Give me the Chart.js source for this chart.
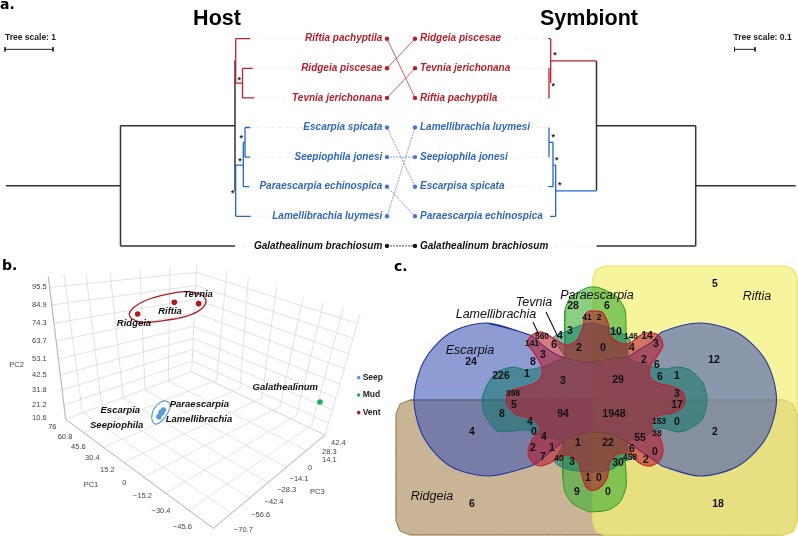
<!DOCTYPE html>
<html>
<head>
<meta charset="utf-8">
<title>Host and symbiont</title>
<script src="https://cdn.jsdelivr.net/npm/chart.js@4"></script>
<style>
  html, body { margin: 0; padding: 0; background: #fff; }
  #page { position: relative; width: 798px; height: 536px; overflow: hidden; }
  canvas { position: absolute; display: block; }
  #treeChart { left: 0; top: 0; }
  #pcaChart { left: 0; top: 255px; }
  #vennChart { left: 390px; top: 260px; }
</style>
</head>
<body>
<div id="page">
  <canvas id="treeChart" width="798" height="256"></canvas>
  <canvas id="pcaChart" width="390" height="281"></canvas>
  <canvas id="vennChart" width="408" height="276"></canvas>
</div>
<script>
// panel a: tips sit on integer rows 0..7, x is branch position
const hostTips = ["Riftia pachyptila", "Ridgeia piscesae", "Tevnia jerichonana", "Escarpia spicata",
  "Seepiophila jonesi", "Paraescarpia echinospica", "Lamellibrachia luymesi", "Galathealinum brachiosum"];
const symbiontTips = ["Ridgeia piscesae", "Tevnia jerichonana", "Riftia pachyptila", "Lamellibrachia luymesi",
  "Seepiophila jonesi", "Escarpisa spicata", "Paraescarpia echinospica", "Galathealinum brachiosum"];
const tipRows = [0, 1, 2, 3, 4, 5, 6, 7];
const tipColors = ["#b5202b", "#b5202b", "#b5202b", "#2f68b8", "#2f68b8", "#2f68b8", "#2f68b8", "#111"];
const dotColors = ["#b5202b", "#b5202b", "#b5202b", "#4f78c4", "#4f78c4", "#4f78c4", "#4f78c4", "#111"];
// host row -> symbiont row
const linkTargets = [2, 0, 1, 5, 4, 6, 3, 7];
const hostTipEnd = [250, 252.7, 254, 250, 250, 249.3, 250.7, 235];
const hostLabelStart = [306, 302, 293, 304, 295, 261, 274, 255];
const symbiontLabelEnd = [500, 509, 496, 529, 507, 503, 542, 547];
const symbiontTipEnd = [548, 548, 548, 549, 549, 548, 550, 596];

const hostBlack = [[6,4.97,120.5,4.97],[120.5,2.94,120.5,7],[120.5,2.94,235,2.94],[120.5,7,235,7],[235,0.74,235,5.14]];
const hostRed = [[235.7,0,235.7,1.5],[235.7,0,250,0],[235.7,1.5,242.5,1.5],[242.5,1,242.5,2],[242.5,1,252.7,1],[242.5,2,254,2]];
const hostBlue = [[235.7,4.27,235.7,6],[235.7,6,250.7,6],[235.7,4.27,243.3,4.27],[243.3,3.5,243.3,5],[243.3,5,249.3,5],
  [243.3,3.5,245,3.5],[245,3,245,4],[245,3,250,3],[245,4,250,4]];
const symbiontBlack = [[695.7,4.97,795.7,4.97],[695.7,2.94,695.7,7],[596.5,2.94,695.7,2.94],[596.5,7,695.7,7],[596.5,0.75,596.5,5.14]];
const symbiontRed = [[550.7,0.75,596.5,0.75],[550.7,0,550.7,1.5],[548.3,0,550.7,0],[549,1,549,2],[548.3,1,549,1],[548.3,2,549,2]];
const symbiontBlue = [[555.7,5.14,596.5,5.14],[555.7,4.27,555.7,6],[550,6,555.7,6],[553,4.27,555.7,4.27],[553,3.5,553,5],
  [548.3,5,553,5],[549.3,3.5,553,3.5],[549,3,549,4]];
const starX = [239.3, 241.3, 240, 232.7, 555, 553.3, 553.3, 556.7, 559.7];
const starRow = [1.42, 3.38, 4.15, 5.22, 0.58, 1.62, 3.35, 4.1, 4.95];
const treeScaleHost = [[5,0.36,53,0.36],[5,0.29,5,0.43],[53,0.29,53,0.43]];
const treeScaleSymbiont = [[734.5,0.36,755,0.36],[734.5,0.29,734.5,0.43],[755,0.29,755,0.43]];

// panel b: projected onto the picture plane of the 3D plot
const pc2Ticks = ["10.6","21.2","31.8","42.5","53.1","63.7","74.3","84.9","95.5"];
const pc2TickX = [140,140,140,140,140,140,140,140,140];
const pc2TickY = [490,450,405,360,312,258,205,150,97];
const pc1Ticks = ["76","60.8","45.6","30.4","15.2","0","\u221215.2","\u221230.4","\u221245.6"];
const pc1TickX = [157,195,235,277,322,373,427,483,547];
const pc1TickY = [517,547,577,610,645,683,722,768,815];
const pc3Ticks = ["42.4","28.3","14.1","0","\u221214.1","\u221228.3","\u221242.4","\u221256.6","\u221270.7"];
const pc3TickX = [1015,988,988,930,897,860,822,782,730];
const pc3TickY = [565,590,615,640,672,705,741,780,825];
const pcAxisNames = ["PC2", "PC1", "PC3"];
const pcAxisX = [50, 273, 952];
const pcAxisY = [330, 690, 712];
const wallLines = [
  [197,493,145,65],[247,472,192,60],[305,453,258,55],[370,430,330,50],[435,405,420,42],[505,378,510,35],[575,350,590,28],
  [650,375,680,50],[720,400,745,68],[785,430,830,95],[840,455,910,125],[890,480,970,145],[935,510,1030,160],[975,540,1080,178],
  [197,493,575,350],[575,350,975,540],
  [192,450,576.5,318],[576.5,318,985,504],[186,405,578,284],[578,284,997,465],[181,360,580,250],[580,250,1008,428],
  [175,312,581,214],[581,214,1019,387],[168,258,583,173],[583,173,1033,341],[162,205,585,133],[585,133,1046,296],
  [155,150,587,92],[587,92,1059,250],[149,97,589,52],[589,52,1072,205]];
const floorLines = [
  [640,820,197,493],[695,775,247,472],[750,730,305,453],[805,683,370,430],[860,637,435,405],[920,587,505,378],[975,540,575,350],
  [640,820,975,540],[565,768,935,510],[495,716,890,480],[430,667,840,455],[370,622,785,430],[310,577,720,400],[250,532,650,375]];
const ventX = [413, 523, 596];
const ventY = [177, 142, 146];
const seepX = [477, 483, 485, 490];
const seepY = [485, 472, 474, 465];
const mudX = [960];
const mudY = [441];
const ventRingX = [388,400,440,500,560,605,618,600,555,490,430,397];
const ventRingY = [175,158,135,118,110,120,140,165,185,197,202,192];
const seepRingX = [455,460,480,498,510,503,485,465];
const seepRingY = [488,465,443,438,450,475,498,507];
const pcaNames = ["Tevnia","Riftia","Ridgeia","Escarpia","Seepiophila","Paraescarpia","Lamellibrachia","Galathealinum"];
const pcaNameX = [594,510,402,361,350,598,597,856];
const pcaNameY = [117,170,205,467,510,447,492,398];
const legendNames = ["Seep","Mud","Vent"];
const legendColors = ["#5b9bd5","#1fae55","#b01820"];
const legendRows = [368,420,473];

// panel c: the six set outlines, in picture units
const riftiaX = [605,785,793.5,797,797,793.5,785,605,596.5,593,593,596.5];
const riftiaY = [266,266,269.5,278,523,531.5,535,535,531.5,523,278,269.5];
const ridgeiaX = [410,783,793,797,797,793,783,410,400,396,396,400];
const ridgeiaY = [400,400,404,414,521,531,535,535,531,521,414,404];
const escarpiaX = [487,530,540,552,565,590,615,628,640,652,662,700,738,766,776.5,766,738,700,662,658,627,610,590,577,563,550,537,525,487,450,424,414,424,450];
const escarpiaY = [323,335,343,352,358,362,358,357,349,342,332,323,333,361,399.5,438,466,476,466,463,442,434,432,435,442,452,463,468,476,466,438,400,361,333];
const paraTopX = [565,565,570,582,590,600,617,625,626,626,628,615,590,565,565];
const paraTopY = [345,310,298,290,287,288,297,310,327,345,357,358,362,358,352];
const paraBottomX = [563,563,565,572,587,590,608,620,626,626,625,627,610,590,577,565];
const paraBottomY = [455,478,492,503,511,512,510,502,487,472,457,442,434,432,435,441];
const lamelliX = [482,487,497,513,527,545,556,565,553,565,590,615,630,627,645,665,677,690,703,707,702,687,677,660,645,627,633,623,610,590,567,555,563,545,527,513,497,485];
const lamelliY = [400,385,372,367,370,366,361,357,338,332,323,330,340,357,365,369,367,370,383,400,420,430,432,428,436,442,457,462,470,472,469,462,442,437,430,431,431,415];
const tevniaX = [590,602,608,610,620,630,638,645,658,663,658,650,650,657,670,680,685,683,673,660,652,652,660,663,658,648,638,630,618,610,607,598,590,585,581,578,568,558,550,540,532,528,532,540,537,530,517,507,506,508,523,537,542,540,532,527,532,542,553,567,577,583,585];
const tevniaY = [311,312,323,335,343,343,337,333,335,345,355,367,377,383,386,390,398,407,413,415,422,428,438,452,462,466,462,454,454,462,478,489,490,485,472,462,455,458,463,466,462,452,440,430,423,418,415,405,400,392,387,382,373,363,350,343,335,332,338,345,340,327,315];
const vennCounts = ["24","560","141","6","4","3","3","2","8","226","1","3","398","28","41","2","6","5","10","146","14","3","4","0","2","6","12","1","6","29","3",
  "5","8","94","4","0","4","4","1","2","1","7","40","3","1","9","6","0","1948","17","153","0","2","28","55","22","6","0","2","458","30","0","18"];
const vennCountX = [471,542,532,554,560,570,543,579,533,501,527,563,513,573,587,599,607,715,616,631,647,656,632,603,644,657,714,677,660,618,677,
  514,502,563,530,534,544,472,578,533,552,543,559,572,588,577,472,599,614,677,659,677,715,657,640,608,632,655,646,630,618,608,718];
const vennCountY = [362,337,344,345,336,331,355,348,362,376,374,381,394,306,318,318,306,284,332,337,336,344,348,348,360,365,360,376,377,380,394,
  405,414,414,422,432,437,432,443,448,448,457,459,462,478,492,504,478,414,405,422,422,432,434,438,443,449,452,460,458,463,492,504];
// these counts are set in the smaller type
const vennSmall = [1, 2, 12, 14, 15, 19, 42, 50, 53, 59];
const vennNames = ["Escarpia","Lamellibrachia","Tevnia","Paraescarpia","Riftia","Ridgeia"];
const vennNameX = [470,496,534,597,757,432];
const vennNameY = [351,315,303,296,297,497];
const pointerLines = [[533,322,539,335],[546,312,558,337]];

function zipXY(xs, ys) {
  return xs.map(function (x, i) { return { x: x, y: ys[i] }; });
}

// [x1,y1,x2,y2] rows become one broken line
function segmentPoints(list) {
  const out = [];
  list.forEach(function (s) {
    out.push({ x: s[0], y: s[1] }, { x: s[2], y: s[3] }, { x: null, y: null });
  });
  return out;
}

function loopPoints(xs, ys) {
  const pts = zipXY(xs, ys);
  pts.push(pts[0]);
  pts.push(pts[1]);
  return pts;
}

function lines(list, color, width, dash) {
  return { data: segmentPoints(list), showLine: true, borderColor: color, borderWidth: width,
    borderDash: dash || [], pointRadius: 0, tension: 0, spanGaps: false, clip: false };
}

function dots(xs, ys, color, r) {
  return { data: zipXY(xs, ys), backgroundColor: color, borderColor: color, pointRadius: r, pointBorderWidth: 0, showLine: false };
}

function texts(strs, xs, ys, font, color, align) {
  return { data: zipXY(xs, ys), pointRadius: 0, showLine: false, markTexts: strs,
    markFont: font, markColor: color, markAlign: align || "center" };
}

function ring(xs, ys, color, width) {
  return { data: loopPoints(xs, ys), showLine: true, borderColor: color, borderWidth: width, pointRadius: 0, tension: 0.35, clip: false };
}

function blob(xs, ys, fill, edge, width, tension) {
  const d = ring(xs, ys, edge, width);
  d.tension = tension;
  d.blobFill = fill;
  return d;
}

const markPlugin = {
  id: "marks",
  beforeDatasetDraw: function (chart, args) {
    const ds = chart.data.datasets[args.index];
    if (!ds.blobFill) return;
    const ctx = chart.ctx;
    ctx.save();
    ctx.beginPath();
    args.meta.dataset.path(ctx);
    ctx.closePath();
    ctx.fillStyle = ds.blobFill;
    ctx.fill();
    ctx.restore();
  },
  afterDatasetsDraw: function (chart) {
    const ctx = chart.ctx;
    chart.data.datasets.forEach(function (ds, i) {
      if (!ds.markTexts) return;
      const pts = chart.getDatasetMeta(i).data;
      ctx.save();
      ctx.font = ds.markFont;
      ctx.textBaseline = "middle";
      ctx.textAlign = ds.markAlign;
      pts.forEach(function (p, k) {
        ctx.fillStyle = Array.isArray(ds.markColor) ? ds.markColor[k] : ds.markColor;
        ctx.fillText(ds.markTexts[k], p.x, p.y);
      });
      ctx.restore();
    });
  },
};

function plainChart(id, datasets, xMin, xMax, yMin, yMax) {
  // chart.js paints the lowest order last, keep list order as paint order
  datasets.forEach(function (d, i) { d.order = datasets.length - i; });
  return new Chart(document.getElementById(id), {
    type: "scatter",
    data: { datasets: datasets },
    plugins: [markPlugin],
    options: {
      responsive: false,
      animation: false,
      devicePixelRatio: 1,
      layout: { padding: 0, autoPadding: false },
      plugins: { legend: { display: false }, tooltip: { enabled: false } },
      scales: {
        x: { type: "linear", display: false, min: xMin, max: xMax },
        y: { type: "linear", display: false, min: yMin, max: yMax, reverse: true },
      },
    },
  });
}

// ---- panel a
const leaderHost = tipRows.map(function (r, i) { return [hostTipEnd[i], r, hostLabelStart[i], r]; });
const leaderSymbiont = tipRows.map(function (r, i) { return [symbiontLabelEnd[i], r, symbiontTipEnd[i], r]; });
function linksFor(from, to) {
  const out = [];
  for (let i = from; i <= to; i++) out.push([387, tipRows[i], 415, linkTargets[i]]);
  return out;
}
const rowFont = "italic bold 10px 'Liberation Sans'";
const treeDatasets = [
  lines(leaderHost, "#eaeaea", 0.8, [4, 3]),
  lines(leaderSymbiont, "#eaeaea", 0.8, [4, 3]),
  lines(linksFor(0, 2), "#b5202b", 0.7),
  lines(linksFor(3, 6), "#4f78c4", 0.7, [2, 1]),
  lines(linksFor(7, 7), "#222", 0.8, [2, 1]),
  lines(hostBlack, "#333", 1.5),
  lines(hostRed, "#c0202a", 1.3),
  lines(hostBlue, "#1f68c0", 1.3),
  lines(symbiontBlack, "#333", 1.5),
  lines(symbiontRed, "#c0202a", 1.3),
  lines(symbiontBlue, "#1f68c0", 1.3),
  lines(treeScaleHost, "#222", 1),
  lines(treeScaleSymbiont, "#222", 1),
  dots(tipRows.map(function () { return 387; }), tipRows, dotColors, 2.2),
  dots(tipRows.map(function () { return 415; }), tipRows, dotColors, 2.2),
  texts(hostTips, tipRows.map(function () { return 382.3; }), tipRows, rowFont, tipColors, "right"),
  texts(symbiontTips, tipRows.map(function () { return 420; }), tipRows, rowFont, tipColors, "left"),
  texts(starX.map(function () { return "*"; }), starX, starRow, "bold 9px 'Liberation Sans'", "#222"),
  texts(["Host", "Symbiont"], [217, 589], [-0.65, -0.65], "bold 21.5px 'Liberation Sans'", "#000"),
  texts(["a."], [0], [-1.13], "900 14px 'DejaVu Sans'", "#000", "left"),
  texts(["Tree scale: 1"], [5], [-0.02], "bold 8.5px 'Liberation Sans'", "#222", "left"),
  texts(["Tree scale: 0.1"], [733.5], [-0.02], "bold 8.5px 'Liberation Sans'", "#222", "left"),
];
plainChart("treeChart", treeDatasets, 0, 798, -1.307, 7.341);

// ---- panel b
const tickFont = "7.5px 'Liberation Sans'";
const pcaDatasets = [
  lines(wallLines, "#d4d4d4", 0.7),
  lines(floorLines, "#d8d8d8", 0.7),
  lines([[145,65,197,493],[197,493,640,820],[640,820,975,540]], "#aaa", 0.8),
  ring(ventRingX, ventRingY, "#b01820", 1.3),
  ring(seepRingX, seepRingY, "#5b9bd5", 1.1),
  dots(ventX, ventY, "#b01820", 2.8),
  dots(seepX, seepY, "#5b9bd5", 2.8),
  dots(mudX, mudY, "#1fae55", 2.8),
  texts(pc2Ticks, pc2TickX, pc2TickY, tickFont, "#444", "right"),
  texts(pc1Ticks, pc1TickX, pc1TickY, tickFont, "#444"),
  texts(pc3Ticks, pc3TickX, pc3TickY, tickFont, "#444"),
  texts(pcAxisNames, pcAxisX, pcAxisY, tickFont, "#444"),
  texts(pcaNames, pcaNameX, pcaNameY, "italic bold 9.5px 'Liberation Sans'", "#111"),
  dots(legendRows.map(function () { return 1076; }), legendRows, legendColors, 1.8),
  texts(legendNames, legendRows.map(function () { return 1088; }), legendRows, "bold 8.5px 'Liberation Sans'", "#222", "left"),
  texts(["b."], [6], [33], "900 14px 'DejaVu Sans'", "#000", "left"),
];
plainChart("pcaChart", pcaDatasets, 0, 1170, 0, 843);

// ---- panel c
const smallCounts = vennCounts.map(function (c, i) { return vennSmall.includes(i) ? c : ""; });
const mainCounts = vennCounts.map(function (c, i) { return vennSmall.includes(i) ? "" : c; });
const vennDatasets = [
  blob(ridgeiaX, ridgeiaY, "rgba(176,146,100,0.68)", "#8c6c3e", 1, 0.001),
  blob(riftiaX, riftiaY, "rgba(244,240,120,0.72)", "#e8e45e", 1.2, 0.001),
  blob(escarpiaX, escarpiaY, "rgba(60,85,180,0.58)", "#22389a", 1.1, 0.3),
  blob(paraTopX, paraTopY, "rgba(60,175,50,0.6)", "#2a9a1c", 1, 0.25),
  blob(paraBottomX, paraBottomY, "rgba(60,175,50,0.6)", "#2a9a1c", 1, 0.25),
  blob(lamelliX, lamelliY, "rgba(20,120,105,0.55)", "#1c7a70", 1, 0.25),
  blob(tevniaX, tevniaY, "rgba(185,25,45,0.58)", "#c02030", 1.1, 0.3),
  lines(pointerLines, "#111", 1.1),
  texts(mainCounts, vennCountX, vennCountY, "bold 10.5px 'Liberation Sans'", "#111"),
  texts(smallCounts, vennCountX, vennCountY, "bold 8.5px 'Liberation Sans'", "#111"),
  texts(vennNames, vennNameX, vennNameY, "italic 12.5px 'Liberation Sans'", "#111"),
  texts(["c."], [394], [267], "900 14px 'DejaVu Sans'", "#000", "left"),
];
plainChart("vennChart", vennDatasets, 390, 798, 260, 536);
</script>
</body>
</html>
